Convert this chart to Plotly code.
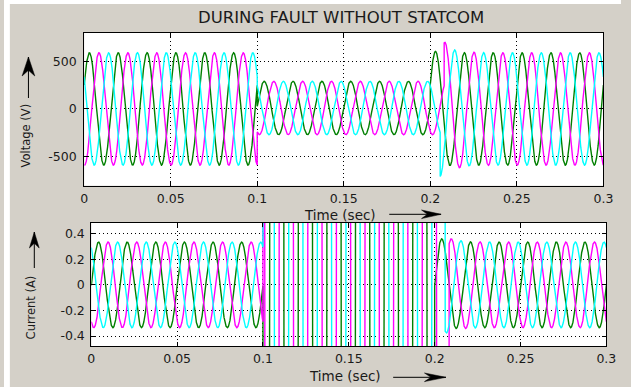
import numpy as np
import plotly.graph_objects as go

# ---------------- values ----------------
phase_names = ["Phase A", "Phase B", "Phase C"]
phase_lag_deg = [0, 120, 240]
freq_hz = 60.0
segment_edges = [0.0, 0.1, 0.2, 0.3]          # pre-fault / fault / post-fault (s)
phase_clear_time = [0.2000, 0.2080, 0.2057]   # instant each phase leaves the fault (s)

voltage_amplitude = [590.0, 280.0, 590.0]     # V crest per segment
voltage_offset = [0.0, 10.0, 0.0]
voltage_peak_time = [0.0030, 0.0040, 0.0030]  # time of a phase-A crest per segment (s)
voltage_clear_boost = [0.04, 0.20, 0.20]      # overshoot after clearing, per phase
current_amplitude = [0.335, 40.0, 0.335]      # A crest per segment
current_offset = [0.0, 0.0, 0.0]
current_peak_time = [0.0042, 0.0080, 0.0042]
current_clear_boost = [0.15, 0.10, 0.15]
transient_tau = 0.006                          # s

x_tick_vals = [0, 0.05, 0.1, 0.15, 0.2, 0.25, 0.3]
x_tick_text = ["0", "0.05", "0.1", "0.15", "0.2", "0.25", "0.3"]
v_tick_vals = [-500, 0, 500]
v_tick_text = ["-500", "0", "500"]
i_tick_vals = [-0.4, -0.2, 0, 0.2, 0.4]
i_tick_text = ["-0.4", "-0.2", "0", "0.2", "0.4"]

title_text = "DURING FAULT WITHOUT STATCOM"
x_title = "Time (sec)"
v_title = "Voltage (V)"
i_title = "Current (A)"

# ---------------- styling ----------------
W, H = 631, 387
colors = ["#008000", "#ff00ff", "#00ffff"]
FONT = "DejaVu Sans"

t = np.round(np.arange(0.0, 0.3 + 1e-9, 2e-5), 6)
w = 2 * np.pi * freq_hz


def waveform(k, amp, off, tpk, boost):
    clr = phase_clear_time[k]
    seg = np.where(t < segment_edges[1], 0, np.where(t < clr, 1, 2))
    A = np.asarray(amp)[seg]
    O = np.asarray(off)[seg]
    tp = np.asarray(tpk)[seg]
    y = A * np.cos(w * (t - tp) - np.deg2rad(phase_lag_deg[k])) + O
    after = t >= clr
    y[after] *= 1 + boost[k] * np.exp(-(t[after] - clr) / transient_tau)
    return y


fig = go.Figure()
for k in range(3):
    fig.add_trace(go.Scatter(
        x=t, y=waveform(k, voltage_amplitude, voltage_offset, voltage_peak_time, voltage_clear_boost),
        mode="lines", line=dict(color=colors[k], width=1.4), name=phase_names[k],
        xaxis="x", yaxis="y", showlegend=False, hoverinfo="skip"))
for k in range(3):
    fig.add_trace(go.Scatter(
        x=t, y=waveform(k, current_amplitude, current_offset, current_peak_time, current_clear_boost),
        mode="lines", line=dict(color=colors[k], width=1.4), name=phase_names[k],
        xaxis="x2", yaxis="y2", showlegend=False, hoverinfo="skip"))

axis_common = dict(
    showline=True, linecolor="black", linewidth=1, mirror="ticks",
    ticks="inside", ticklen=4, tickcolor="black", tickwidth=1,
    showgrid=True, gridcolor="black", griddash="1px,3px", gridwidth=1,
    zeroline=False, tickfont=dict(family=FONT, size=12.5, color="#1a1a1a"),
)


def px(x):
    return x / W


def py(y):
    return 1 - y / H


fig.update_layout(
    width=W, height=H, margin=dict(l=0, r=0, t=0, b=0),
    paper_bgcolor="#d4d0c8", plot_bgcolor="white",
    xaxis=dict(domain=[px(82), px(613)], range=[0, 0.3], anchor="y",
               tickvals=x_tick_vals, ticktext=x_tick_text, ticklabelstandoff=1, **axis_common),
    yaxis=dict(domain=[py(185.7), py(32.7)], range=[-805, 800], anchor="x",
               tickvals=v_tick_vals, ticktext=v_tick_text, ticklabelstandoff=4, **axis_common),
    xaxis2=dict(domain=[px(89.3), px(616)], range=[0, 0.3], anchor="y2",
                tickvals=x_tick_vals, ticktext=x_tick_text, ticklabelstandoff=1, **axis_common),
    yaxis2=dict(domain=[py(346), py(222.7)], range=[-0.478, 0.486], anchor="x2",
                tickvals=i_tick_vals, ticktext=i_tick_text, ticklabelstandoff=3, **axis_common),
)

ann = []


def text(s, x, y, size, angle=0):
    ann.append(dict(text=s, x=px(x), y=py(y), xref="paper", yref="paper",
                    xanchor="center", yanchor="middle", showarrow=False,
                    textangle=angle, font=dict(family=FONT, size=size, color="#1a1a1a")))


text(title_text, 345, 17.5, 16.5)
text(x_title, 344, 214.5, 13.5)
text(x_title, 349, 376, 13.5)
text(v_title, 22, 136, 11.5, -90)
text(i_title, 28, 307, 11.5, -90)
fig.update_layout(annotations=ann)

shapes = [
    dict(type="rect", xref="paper", yref="paper", x0=0, x1=px(6), y0=0, y1=1,
         fillcolor="white", line=dict(width=0)),
    dict(type="rect", xref="paper", yref="paper", x0=0, x1=1, y0=py(4), y1=1,
         fillcolor="white", line=dict(width=0)),
]


def arrow(x0, y0, x1, y1, head_len, half_w):
    shapes.append(dict(type="line", xref="paper", yref="paper",
                       x0=px(x0), y0=py(y0), x1=px(x1), y1=py(y1),
                       line=dict(color="black", width=1)))
    d = np.array([x1 - x0, y1 - y0], float)
    d /= np.hypot(*d)
    n = np.array([-d[1], d[0]])
    tip = np.array([x1, y1], float)
    base = tip - d * head_len
    notch = tip - d * head_len * 0.7
    p1 = base + n * half_w
    p2 = base - n * half_w
    pts = [tip, p1, notch, p2]
    path = "M " + " L ".join(f"{px(p[0]):.5f},{py(p[1]):.5f}" for p in pts) + " Z"
    shapes.append(dict(type="path", xref="paper", yref="paper", path=path,
                       fillcolor="black", line=dict(color="black", width=0.5)))


arrow(25, 98, 25, 57, 19, 6.5)
arrow(31, 268, 31, 232, 16, 5)
arrow(394, 214.3, 447, 214.3, 20, 4.3)
arrow(398, 377.3, 452, 377.3, 22, 4.3)
fig.update_layout(shapes=shapes)

fig.write_html("out.html")
